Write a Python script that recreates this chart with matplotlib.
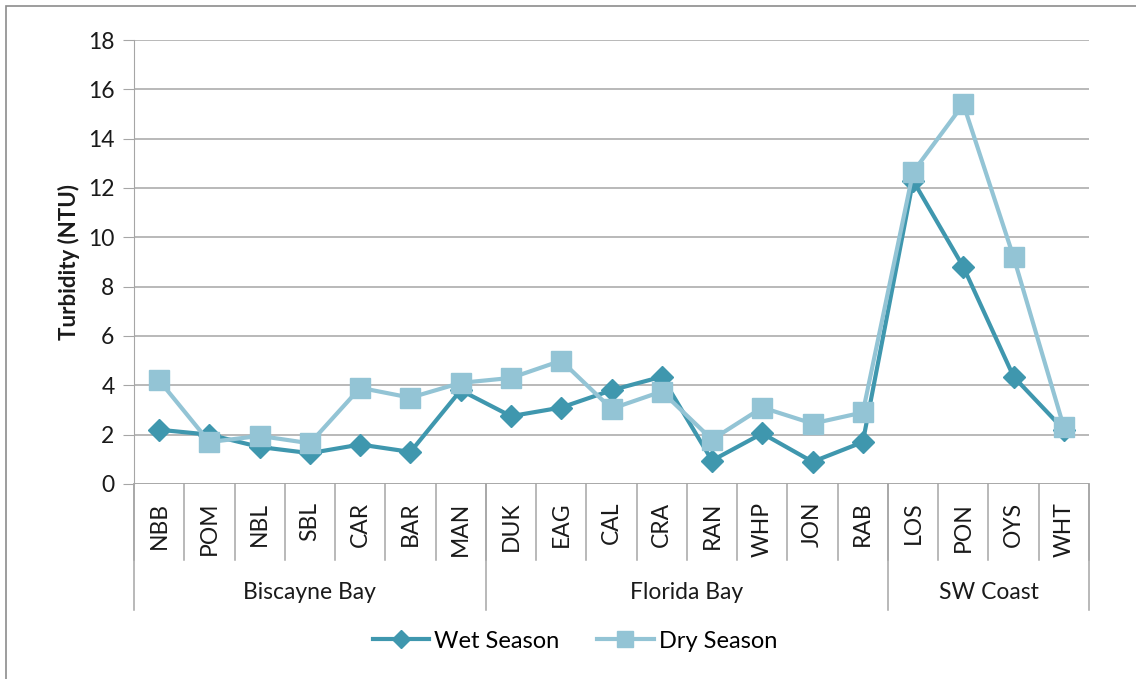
import matplotlib
matplotlib.use("Agg")
import matplotlib.pyplot as plt
from matplotlib import transforms
from matplotlib.patches import Rectangle

sites = ["NBB", "POM", "NBL", "SBL", "CAR", "BAR", "MAN",
         "DUK", "EAG", "CAL", "CRA", "RAN", "WHP", "JON", "RAB",
         "LOS", "PON", "OYS", "WHT"]
regions = ["Biscayne Bay", "Florida Bay", "SW Coast"]
region_sizes = [7, 8, 4]

wet = [2.2, 2.0, 1.5, 1.25, 1.6, 1.3, 3.8,
       2.75, 3.1, 3.8, 4.35, 0.95, 2.05, 0.9, 1.7,
       12.3, 8.8, 4.35, 2.2]
dry = [4.2, 1.7, 1.95, 1.65, 3.9, 3.5, 4.1,
       4.3, 5.0, 3.05, 3.75, 1.8, 3.1, 2.45, 2.9,
       12.65, 15.4, 9.2, 2.3]

wet_color = "#3f97ae"
dry_color = "#93c4d5"
grid_color = "#a6a6a6"
text_color = "#1a1a1a"

plt.rcParams["font.family"] = ["Lato", "DejaVu Sans"]

fig = plt.figure(figsize=(11.36, 6.79), dpi=100)
ax = fig.add_axes([134 / 1136, 1 - 484 / 679, (1089 - 134) / 1136, 444 / 679])

# outer frame of the chart
fig.patches.append(Rectangle((6 / 1136, -0.1), 1.2, 1 - 6 / 679 + 0.1,
                             transform=fig.transFigure, fill=False,
                             edgecolor="#8c8c8c", linewidth=1.2))

x = list(range(len(sites)))
ax.plot(x, wet, color=wet_color, lw=3, marker="D", ms=11,
        mec=wet_color, label="Wet Season", zorder=3)
ax.plot(x, dry, color=dry_color, lw=3, marker="s", ms=14,
        mec=dry_color, label="Dry Season", zorder=4)

ax.set_xlim(-0.5, len(sites) - 0.5)
ax.set_ylim(0, 18)
ax.set_yticks(range(0, 19, 2))
ax.yaxis.grid(True, color=grid_color, lw=1.1)
ax.set_axisbelow(True)
for side in ["top", "right", "bottom"]:
    ax.spines[side].set_visible(False)
ax.spines["left"].set_color(grid_color)
ax.tick_params(axis="y", length=8, color=grid_color, labelsize=16.5,
               labelcolor=text_color, pad=6)
ax.set_xticks([])
ax.set_ylabel("Turbidity (NTU)", fontsize=16, fontweight="bold",
              color=text_color, labelpad=6)

# category axis: site labels, dividers and region groups
trans = transforms.blended_transform_factory(ax.transData, ax.transAxes)
for i, s in enumerate(sites):
    ax.text(i, -0.04, s, transform=trans, rotation=90, ha="center",
            va="top", fontsize=16.5, color=text_color)
for i in range(len(sites) + 1):
    ax.plot([i - 0.5, i - 0.5], [0, -0.171], transform=trans,
            color=grid_color, lw=1.1, clip_on=False)
start = 0
bounds = [-0.5]
for name, n in zip(regions, region_sizes):
    ax.text(start + (n - 1) / 2, -0.245, name, transform=trans,
            ha="center", va="center", fontsize=16.5, color=text_color)
    start += n
    bounds.append(start - 0.5)
for b in bounds:
    ax.plot([b, b], [0, -0.284], transform=trans, color=grid_color,
            lw=1.1, clip_on=False)
ax.axhline(0, color=grid_color, lw=1.1)

fig.legend(loc="center", bbox_to_anchor=(0.506, 1 - 641 / 679), ncol=2,
           frameon=False, fontsize=17, handlelength=2.4, columnspacing=1.6,
           handletextpad=0.2, markerscale=0.85)

fig.savefig("out.png", dpi=100)
